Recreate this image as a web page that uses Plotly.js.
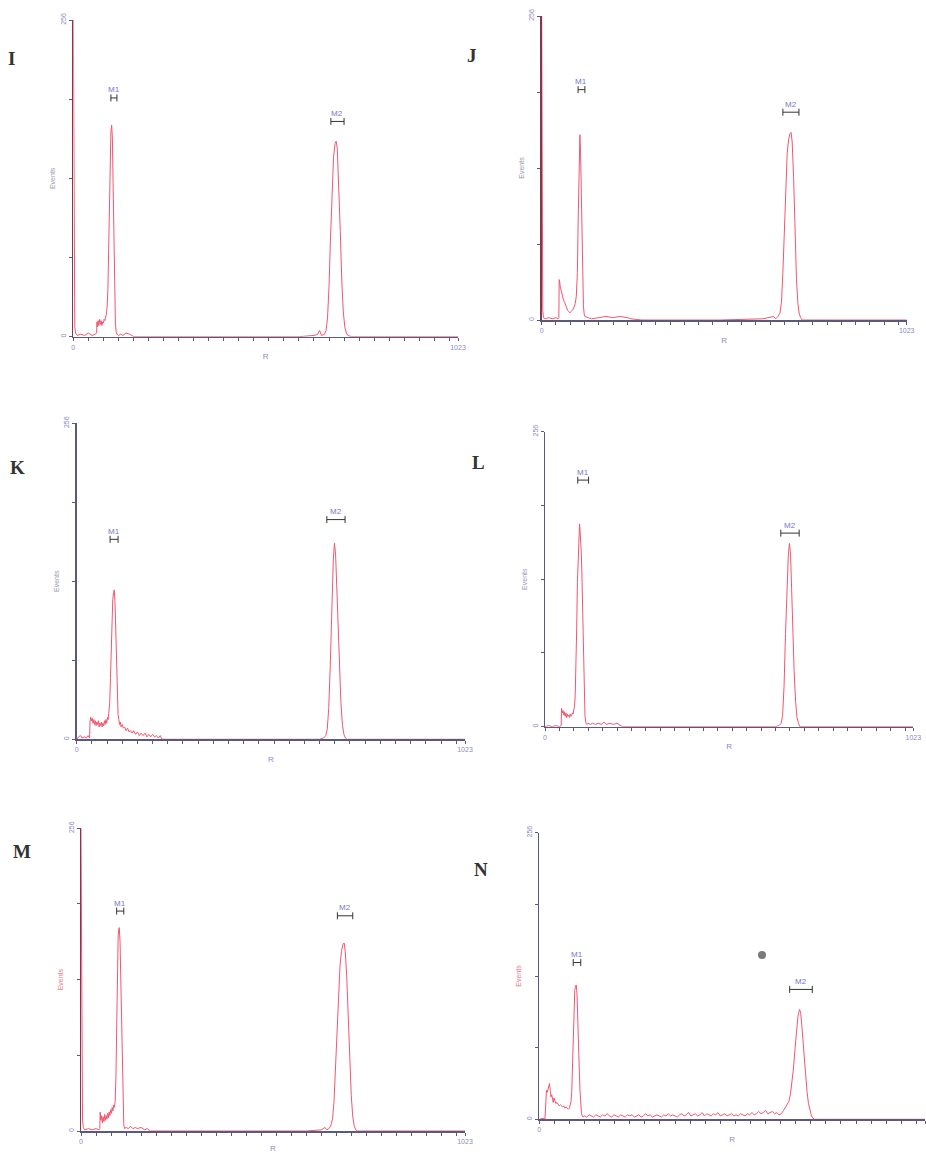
<!DOCTYPE html>
<html>
<head>
<meta charset="utf-8">
<script src="https://cdn.plot.ly/plotly-3.0.1.min.js"></script>
<style>html,body{margin:0;padding:0;background:#fff;}#chart{width:926px;height:1153px;}</style>
</head>
<body>
<div id="chart"></div>
<script>
// ---- Data (channel -> events) ----
const panelNames = ['I', 'J', 'K', 'L', 'M', 'N'];

const I_ch = [0,1,2,3,4,6,10,20,30,40, 50,58,62,63,64,66,68,70,72,74, 76,78,80,82,84,86,88,90,92,94, 96,98,100,102,104,106,108,110,112,114, 116,120,126,132,140,150,155,160,180,250, 400,600,640,650,655,660,668,672,676,680, 684,688,692,696,699,702,706,710,714,718, 722,726,730,740,1023];
const I_ev = [256,150,90,30,8,3,1,2,1,3, 1,2,3,12,8,13,9,14,10,13, 9,12,11,14,13,16,18,24,38,70, 115,150,166,171,160,120,70,30,10,4, 2,1,2,1,3,2,1,0,0,0, 0,0,1,2,5,1,2,5,15,40, 80,118,145,156,158,152,125,85,45,20, 8,3,1,0,0];

const J_ch = [0,1,2,3,5,10,20,30,40,46, 48,49,50,52,55,58,61,64,67,70, 73,76,79,82,85,88,91,94,97,100, 102,104,106,107,109,111,113,115,117,119, 121,130,140,160,180,200,220,240,250,280, 500,620,640,650,656,662,668,672,676,680, 684,688,692,696,699,702,706,710,714,718, 722,726,730,1023];
const J_ev = [256,120,40,8,2,1,2,1,2,1, 2,34,33,28,24,20,17,15,12,10, 8,7,6,7,8,9,11,14,20,40, 80,125,150,156,140,105,65,30,12,5, 3,2,1,2,3,2,3,2,1,0, 0,1,2,3,1,3,6,15,40,80, 115,140,152,157,158,150,120,75,35,14, 5,2,0,0];

const K_ch = [0,5,10,14,20,25,30,34,35,37, 39,41,43,45,47,49,51,53,55,57, 59,61,63,65,67,69,71,73,75,77, 79,81,83,85,87,89,91,93,95,97, 99,101,103,105,107,109,111,113,115,117, 120,123,126,130,134,138,142,146,150,155, 160,165,170,175,180,185,190,195,200,205, 210,215,220,225,400,640,650,656,660,664, 668,672,676,679,682,685,688,692,696,700, 704,708,712,1023];
const K_ev = [0,2,3,1,2,1,3,1,14,18, 15,17,13,16,12,15,11,14,12,15, 10,13,11,14,10,13,11,15,12,16, 13,18,16,22,30,50,80,100,113,119, 121,110,85,55,32,20,16,12,14,10, 12,9,10,7,9,6,7,5,7,4, 6,3,5,3,5,2,4,2,4,2, 3,1,3,0,0,0,1,3,8,25, 60,110,145,159,150,125,95,60,30,12, 4,1,0,0];

const L_ch = [0,10,20,30,40,45,46,48,50,52, 54,56,58,60,62,64,66,68,70,72, 74,76,78,80,82,84,86,88,90,92, 94,96,97,99,101,103,105,107,109,111, 113,116,120,126,132,140,148,156,164,170, 180,190,200,208,215,500,640,650,656,660, 664,668,672,676,679,682,685,688,692,696, 700,704,708,1023];
const L_ev = [0,1,0,1,0,1,16,12,14,10, 13,9,12,8,11,9,10,8,11,9, 10,12,11,14,18,28,50,85,125,150, 166,176,172,160,150,125,90,55,25,10, 4,2,3,2,3,2,3,2,4,2, 3,2,3,1,0,0,0,1,3,10, 35,80,125,150,159,150,120,85,48,22, 8,3,0,0];

const M_ch = [0,1,2,3,4,6,10,20,30,40, 48,50,51,53,55,57,59,61,63,65, 67,69,71,73,75,77,79,81,83,85, 87,89,91,93,95,97,99,101,102,104, 106,108,110,112,114,116,120,126,132,138, 145,150,160,170,176,185,400,600,640,650, 655,660,665,670,674,678,682,686,690,694, 698,701,704,708,712,716,720,724,728,732, 736,1023];
const M_ev = [256,200,120,40,10,3,1,2,1,2, 1,2,16,9,13,7,12,8,14,9, 13,10,15,11,16,13,18,15,20,17, 22,20,25,45,90,140,165,171,172,160, 125,80,40,15,5,2,3,2,4,2, 3,2,3,1,2,0,0,0,1,3, 1,2,4,10,25,55,90,120,140,152, 158,159,152,130,95,60,30,12,4,1, 0,0];

const N_ch = [0,10,15,17,19,21,23,25,27,29, 31,33,35,37,39,41,44,47,50,53, 56,59,62,65,68,71,74,77,80,82, 84,86,88,90,92,94,96,98,100,102, 104,106,108,110,112,114,116,120,126,132, 138,144,150,156,162,168,174,180,186,192, 198,204,210,216,222,228,234,240,246,252, 258,264,270,276,282,288,294,300,306,312, 318,324,330,336,342,348,354,360,366,372, 378,384,390,396,402,408,414,420,426,432, 438,444,450,456,462,468,474,480,486,492, 498,504,510,516,522,528,534,540,546,552, 558,564,570,576,582,588,594,600,606,612, 618,624,630,636,642,648,654,658,662,666, 670,674,678,682,686,690,693,696,699,702, 706,710,714,718,722,726,730,1023];
const N_ev = [0,1,0,22,26,24,28,30,32,26, 20,22,17,15,19,16,14,15,13,12, 13,12,11,12,10,11,10,9,10,12, 16,24,45,75,100,115,119,120,112,95, 70,45,25,12,5,3,2,3,2,4, 3,2,4,3,2,4,3,5,3,2, 4,3,2,4,3,2,4,3,4,2, 3,4,2,3,5,3,4,2,3,4, 3,2,4,3,5,3,4,3,2,4, 5,3,4,6,3,4,5,3,4,6, 3,5,4,3,5,4,6,3,4,5, 3,4,5,3,4,3,5,4,3,5, 4,6,4,5,7,5,6,8,5,6, 7,5,6,4,5,8,12,14,16,22, 32,45,62,80,92,98,96,85,72,58, 40,25,14,8,3,1,0,0];

// Marker gates M1 / M2 (channel range and drawn level in events)
const m1Lo = [100, 102, 88, 91, 95, 90];
const m1Hi = [116, 121, 109, 121, 114, 110];
const m1Lv = [193, 194, 162, 214, 186, 140];
const m2Lo = [685, 676, 659, 655, 683, 664];
const m2Hi = [720, 721, 707, 706, 724, 724];
const m2Lv = [174, 175, 178, 168, 182, 116];

const xTickVals = [0, 1023];
const xTickText = ['0', '1023'];
const yTickVals = [0, 256];
const yTickText = ['0', '256'];
const xTitle = 'R';
const yTitle = 'Events';

// ---- Layout geometry (pixels) ----
const W = 926, H = 1153;
const boxes = [
  [73.3, 458, 20, 336.7],
  [541.7, 906.7, 16, 320],
  [76.7, 465, 423.3, 739.3],
  [545, 913.3, 431.7, 726.7],
  [81, 465, 828.3, 1131],
  [539.3, 925, 832.7, 1119.3]
];
const letterPos = [[11, 58], [472, 55], [17, 467], [478, 462], [22, 851], [481, 869]];
const eventsColor = ['#9a9ab0', '#9a9ab0', '#9a9ab0', '#9a9ab0', '#e67a8a', '#e67a8a'];
const yLineColor = ['#7e3a55', '#7e3a55', '#5a5a7e', '#5a5a7e', '#7e3a55', '#5a5a7e'];

const chans = [I_ch, J_ch, K_ch, L_ch, M_ch, N_ch];
const evs = [I_ev, J_ev, K_ev, L_ev, M_ev, N_ev];

const axisColor = '#5a5a7e';
const labelColor = '#8a8ac4';
const traceColor = '#f2566e';

const traces = [];
const layout = {
  width: W, height: H,
  margin: {l: 0, r: 0, t: 0, b: 0},
  paper_bgcolor: '#ffffff', plot_bgcolor: '#ffffff',
  showlegend: false,
  font: {family: 'Arial, Liberation Sans, sans-serif'},
  annotations: [],
  shapes: []
};

panelNames.forEach((name, i) => {
  const k = i + 1;
  const xa = 'x' + (k === 1 ? '' : k);
  const ya = 'y' + (k === 1 ? '' : k);
  const xk = 'xaxis' + (k === 1 ? '' : k);
  const yk = 'yaxis' + (k === 1 ? '' : k);
  const b = boxes[i];

  traces.push({
    x: chans[i], y: evs[i], xaxis: xa, yaxis: ya,
    mode: 'lines', line: {color: traceColor, width: 1}, hoverinfo: 'skip'
  });
  // gate brackets
  [[m1Lo, m1Hi, m1Lv, 'M1'], [m2Lo, m2Hi, m2Lv, 'M2']].forEach(g => {
    const lo = g[0][i], hi = g[1][i], lv = g[2][i];
    traces.push({
      x: [lo, hi], y: [lv, lv], xaxis: xa, yaxis: ya,
      mode: 'lines+markers', line: {color: '#333333', width: 1},
      marker: {symbol: 'line-ns-open', size: 5, line: {color: '#333333', width: 1}},
      hoverinfo: 'skip', cliponaxis: false
    });
    layout.annotations.push({
      xref: xa, yref: ya, x: (lo + hi) / 2, y: lv, yshift: 8,
      text: g[3], showarrow: false,
      font: {size: 8, color: '#7676cc', family: 'Arial, Liberation Sans, sans-serif'}
    });
  });

  layout[xk] = {
    domain: [b[0] / W, b[1] / W], anchor: ya,
    range: [0, 1023], fixedrange: true,
    showline: true, linecolor: axisColor, linewidth: 1.5,
    showgrid: false, zeroline: false,
    ticks: 'outside', ticklen: 3, tickwidth: 1, tickcolor: axisColor,
    tickmode: 'array', tickvals: xTickVals, ticktext: xTickText,
    tickfont: {size: 7, color: labelColor},
    minor: {tickmode: 'linear', tick0: 0, dtick: 40, ticks: 'outside', ticklen: 3, tickcolor: axisColor, showgrid: false},
    title: {text: xTitle, standoff: 4, font: {size: 8, color: labelColor}}
  };
  layout[yk] = {
    domain: [1 - b[3] / H, 1 - b[2] / H], anchor: xa,
    range: [0, 256], fixedrange: true,
    showline: true, linecolor: yLineColor[i], linewidth: 1.5,
    showgrid: false, zeroline: false,
    ticks: 'outside', ticklen: 3, tickwidth: 1, tickcolor: axisColor,
    tickmode: 'array', tickvals: yTickVals, ticktext: yTickText, tickangle: -90,
    tickfont: {size: 7, color: labelColor},
    minor: {tickmode: 'linear', tick0: 0, dtick: 64, ticks: 'outside', ticklen: 3, tickcolor: axisColor, showgrid: false},
    title: {text: yTitle, standoff: 3, font: {size: 7, color: eventsColor[i]}}
  };

  layout.annotations.push({
    xref: 'paper', yref: 'paper',
    x: letterPos[i][0] / W, y: 1 - letterPos[i][1] / H,
    xanchor: 'center', yanchor: 'middle',
    text: '<b>' + name + '</b>', showarrow: false,
    font: {size: 19, color: '#333333', family: 'Liberation Serif, DejaVu Serif, serif'}
  });
});

// scanned-print speck in panel N
layout.shapes.push({
  type: 'circle', xref: 'paper', yref: 'paper',
  x0: 758 / W, x1: 766 / W, y0: 1 - 959 / H, y1: 1 - 951 / H,
  fillcolor: '#7a7a7a', line: {width: 0}
});

Plotly.newPlot('chart', traces, layout, {staticPlot: true, displayModeBar: false});
</script>
</body>
</html>
